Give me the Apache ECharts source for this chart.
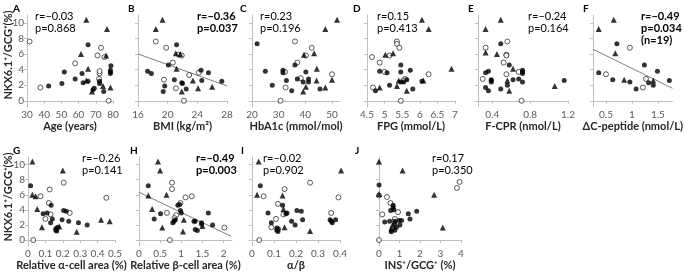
<!DOCTYPE html>
<html>
<head>
<meta charset="utf-8">
<script src="https://cdn.jsdelivr.net/npm/echarts@6/dist/echarts.min.js"></script>
<style>
  html, body { margin: 0; padding: 0; background: #fff; }
  #chart { width: 685px; height: 272px; }
</style>
</head>
<body>
<div id="chart"></div>
<script>
// y value in every panel: NKX6.1+/GCG+ (%)
// each panel: filled circles, open circles, triangles

// A - age
const ageFilled = [[42.6,1.9],[50.3,2.2],[51.7,3.7],[58,2.8],[62,3.5],[62.6,2.3],[65.5,7.2],[65.5,2.5],[68.4,1.4],[69.1,1.6],[72.2,2.5],[72.2,2.2],[74.6,1.2],[78.8,4.5],[78.5,3.9],[78.5,3.7],[78.5,3.5]];
const ageOpen = [[31.5,7.6],[37.8,1.7],[58,4.8],[71,5.8],[73,6.8],[75,5.6],[71.9,2.8],[72.2,3.5],[72.2,3.8],[77.5,0]];
const ageTri = [[64.5,10.4],[76.5,9.2],[61.4,6.0],[76,5.8],[65.5,4.1],[64.5,2.6],[67.8,1.2],[74.2,1.9],[78.5,1.7]];

// B - BMI
const bmiFilled = [[21.2,7.2],[20.1,4.6],[17.3,3.8],[17.8,3.5],[24.5,3.9],[25.5,3.6],[20.9,2.7],[24.6,2.6],[27.3,2.5],[21.9,2.3],[22.0,2.2],[19.6,1.9],[22.5,1.5],[19.4,1.2]];
const bmiOpen = [[18.4,7.6],[19.8,6.8],[21.5,5.9],[21.9,5.8],[20.7,4.9],[24.2,3.6],[22.9,3.3],[19.5,2.7],[21.1,1.6],[22.2,0]];
const bmiTri = [[19.3,10.4],[18.4,9.2],[21.1,6.1],[21.7,6.0],[21.2,4.1],[23.4,2.6],[24.1,1.6],[26,1.8],[21.9,1.2]];
const bmiFit = [[16,6.0],[28,1.9]];

// C - HbA1c
const hbFilled = [[21.9,7.3],[36.1,4.6],[25,3.8],[31.6,3.9],[31.6,3.6],[40.2,3.7],[37,2.8],[32.9,2.6],[39.2,2.4],[41.2,2.8],[41.2,2.4],[27.6,2.0],[34.9,1.3],[45.5,1.5]];
const hbOpen = [[36.1,7.6],[42.4,6.8],[40.2,5.8],[37,4.9],[32.4,3.7],[50,3.4],[38.3,2.9],[32.6,1.7],[30.7,0]];
const hbTri = [[51.9,10.4],[47.5,9.2],[39.5,5.9],[43.3,6.1],[44.3,4.1],[44.2,2.6],[50,2.7],[40.2,1.8],[47.5,1.7],[39.2,1.2]];

// D - FPG
const fpgFilled = [[5.46,4.6],[4.86,3.8],[5.07,3.6],[5.46,3.7],[5.73,3.9],[5.63,2.7],[5.46,2.4],[5.54,2.4],[6.06,2.5],[5.14,2.0],[4.74,1.3],[5.8,1.5]];
const fpgOpen = [[5.35,7.6],[5.35,7.3],[5.42,6.8],[5.14,5.8],[4.64,5.6],[4.86,4.9],[5.0,3.7],[6.25,3.4],[5.58,2.8],[5.54,2.6],[4.67,1.7],[5.46,0]];
const fpgTri = [[6.06,10.4],[6.25,9.2],[5.02,5.9],[5.24,6.1],[6.9,4.1],[5.4,2.6],[6.1,2.6],[5.35,1.9],[4.86,1.7],[5.63,1.3]];

// E - F-CPR
const fcprFilled = [[0.49,7.3],[0.58,4.6],[0.72,3.9],[0.72,3.7],[0.72,3.5],[0.36,3.8],[0.33,3.6],[0.39,2.7],[0.39,2.6],[0.39,2.4],[0.62,2.7],[0.68,2.8],[0.56,2.0],[0.72,2.4],[0.33,1.7],[0.36,1.3],[0.49,1.5],[1.16,2.6]];
const fcprOpen = [[0.56,7.6],[0.33,6.8],[0.55,5.9],[0.55,5.8],[0.52,4.9],[0.68,3.7],[0.55,3.4],[0.30,2.8],[0.71,0]];
const fcprTri = [[0.49,10.4],[0.33,9.2],[0.45,6.0],[0.33,6.2],[0.62,4.1],[0.56,2.6],[0.58,1.3],[1.06,1.9]];

// F - delta C-peptide
const dcpFilled = [[0.71,7.3],[1.24,4.6],[1.49,3.8],[0.36,3.6],[0.63,2.7],[0.96,2.4],[1.32,2.3],[1.41,2.0],[1.72,2.6],[1.08,1.5]];
const dcpOpen = [[0.96,6.8],[0.50,3.4],[1.27,2.8],[1.21,1.7]];
const dcpTri = [[0.65,10.4],[0.36,9.2],[0.68,6.1],[0.85,2.7],[1.41,2.6]];
const dcpFit = [[0.25,6.6],[1.78,1.6]];

// G - relative alpha-cell area
const alphaFilled = [[0.015,7.2],[0.133,4.6],[0.205,3.9],[0.22,3.8],[0.087,3.5],[0.11,3.6],[0.14,2.8],[0.13,2.3],[0.196,2.7],[0.234,2.5],[0.29,2.3],[0.34,2.0],[0.16,1.5],[0.16,1.3],[0.165,1.2],[0.17,1.7]];
const alphaOpen = [[0.205,7.6],[0.125,6.7],[0.072,5.8],[0.12,4.9],[0.45,5.6],[0.24,3.6],[0.13,3.4],[0.1,2.8],[0.03,0]];
const alphaTri = [[0.025,10.4],[0.2,9.2],[0.025,6.0],[0.044,5.8],[0.053,4.1],[0.08,1.7],[0.18,1.8],[0.28,1.1],[0.42,2.7],[0.47,2.5]];

// H - relative beta-cell area
const betaFilled = [[0.22,7.2],[0.92,4.6],[0.96,4.7],[0.51,3.5],[0.98,3.9],[1.0,3.6],[1.64,3.6],[0.86,2.7],[0.83,2.5],[0.36,2.8],[0.8,2.3],[1.3,2.5],[1.33,2.5],[1.48,2.3],[1.48,2.1],[1.74,2.0],[1.33,1.4],[1.38,1.25]];
const betaOpen = [[0.78,7.6],[0.78,6.75],[1.1,5.65],[1.25,5.8],[0.98,4.9],[0.66,3.6],[0.88,3.3],[0.84,2.9],[2.02,1.65],[0.73,0]];
const betaTri = [[0.45,10.4],[0.5,9.2],[0.22,5.9],[0.65,6.0],[0.31,4.1],[1.06,2.7],[1.5,1.85],[0.55,1.65],[1.04,1.15]];
const betaFit = [[0,6.33],[2.18,0.5]];

// I - alpha/beta
const ratioFilled = [[0.038,7.2],[0.139,4.6],[0.154,3.5],[0.159,3.6],[0.204,3.9],[0.224,3.8],[0.073,3.6],[0.088,2.3],[0.113,1.6],[0.113,1.3],[0.118,1.15],[0.12,1.45],[0.18,2.5],[0.196,2.0],[0.23,2.7],[0.355,2.7],[0.36,2.5],[0.365,2.3],[0.38,2.7]];
const ratioOpen = [[0.264,7.6],[0.148,6.75],[0.053,5.8],[0.393,5.65],[0.118,4.8],[0.143,3.4],[0.109,2.8],[0.36,3.6],[0.088,1.7],[0.033,0]];
const ratioTri = [[0.03,10.4],[0.405,9.2],[0.023,6.0],[0.139,5.9],[0.143,4.1],[0.148,1.7],[0.264,1.2]];

// J - INS+/GCG+
const insFilled = [[0,7.3],[0.69,4.6],[0.69,4.3],[0.72,4.0],[0.57,3.9],[1.43,3.5],[1.84,3.8],[1.51,2.8],[0.28,2.4],[0.52,2.5],[0.77,2.5],[0.98,2.6],[1.1,2.6],[0.77,2.2],[1.02,2.0],[0.6,1.3],[0.77,1.3],[0.6,1.1],[0.85,1.7]];
const insOpen = [[3.93,7.7],[3.8,6.9],[0,5.9],[0.39,5.7],[0.56,4.9],[0.93,3.7],[0.16,3.4],[0.77,2.8],[0.69,1.6],[0,0]];
const insTri = [[0,10.4],[1.15,9.2],[0,6.1],[2.69,6.0],[0.66,2.0],[3.11,1.65]];

// tick labels
const yTicks = [0, 2, 4, 6, 8, 10];
const ageTicks = [30, 40, 50, 60, 70, 80];
const bmiTicks = [16, 20, 24, 28];
const hbTicks = [20, 30, 40, 50];
const fpgTicks = [4.5, 5, 5.5, 6, 6.5, 7];
const fcprTicks = [0.4, 0.8, 1.2];
const dcpTicks = [0.5, 1, 1.5];
const alphaTicks = [0, 0.1, 0.2, 0.3, 0.4, 0.5];
const betaTicks = [0, 0.5, 1, 1.5, 2];
const ratioTicks = [0, 0.1, 0.2, 0.3, 0.4];
const insTicks = [0, 1, 2, 3, 4];

const letters = ['A', 'B', 'C', 'D', 'E', 'F', 'G', 'H', 'I', 'J'];
const xTitles = ['Age (years)', 'BMI (kg/m²)', 'HbA1c (mmol/mol)', 'FPG (mmol/L)', 'F-CPR (nmol/L)',
  'ΔC-peptide (nmol/L)', 'Relative α-cell area (%)', 'Relative β-cell area (%)', 'α/β', 'INS⁺/GCG⁺ (%)'];
const statR = ['r=−0.03', 'r=−0.36', 'r=0.23', 'r=0.15', 'r=−0.24', 'r=−0.49', 'r=−0.26', 'r=−0.49', 'r=−0.02', 'r=0.17'];
const statP = ['p=0.868', 'p=0.037', 'p=0.196', 'p=0.413', 'p=0.164', 'p=0.034', 'p=0.141', 'p=0.003', 'p=0.902', 'p=0.350'];
const yTitle = 'NKX6.1⁺/GCG⁺(%)';

const panelData = [
  [ageFilled, ageOpen, ageTri, null, ageTicks],
  [bmiFilled, bmiOpen, bmiTri, bmiFit, bmiTicks],
  [hbFilled, hbOpen, hbTri, null, hbTicks],
  [fpgFilled, fpgOpen, fpgTri, null, fpgTicks],
  [fcprFilled, fcprOpen, fcprTri, null, fcprTicks],
  [dcpFilled, dcpOpen, dcpTri, dcpFit, dcpTicks],
  [alphaFilled, alphaOpen, alphaTri, null, alphaTicks],
  [betaFilled, betaOpen, betaTri, betaFit, betaTicks],
  [ratioFilled, ratioOpen, ratioTri, null, ratioTicks],
  [insFilled, insOpen, insTri, null, insTicks]
];

// layout (pixels) and axis ranges
const layout = [
  { left: 27,  width: 86, top: 15,  min: 30,   max: 80,   letterX: 13,  statX: 35,  bold: false },
  { left: 138, width: 89, top: 15,  min: 16,   max: 28,   letterX: 128, statX: 197, bold: true },
  { left: 252, width: 88, top: 15,  min: 20,   max: 53,   letterX: 240, statX: 260, bold: false },
  { left: 367, width: 88, top: 15,  min: 4.5,  max: 7,    letterX: 353, statX: 377, bold: false },
  { left: 478, width: 90, top: 15,  min: 0.25, max: 1.2,  letterX: 468, statX: 528, bold: false },
  { left: 593, width: 90, top: 15,  min: 0.25, max: 1.78, letterX: 583, statX: 641, bold: true },
  { left: 28,  width: 87, top: 157, min: 0,    max: 0.5,  letterX: 13,  statX: 82,  bold: false },
  { left: 139, width: 93, top: 157, min: 0,    max: 2.2,  letterX: 130, statX: 196, bold: true },
  { left: 252, width: 88, top: 157, min: 0,    max: 0.4,  letterX: 241, statX: 263, bold: false },
  { left: 379, width: 82, top: 157, min: 0,    max: 4,    letterX: 355, statX: 432, bold: false }
];
const plotH = 92;

const FONT = 'Lato, "Open Sans", "DejaVu Sans", sans-serif';
const axisGray = '#bfbfbf';
const labelGray = '#595959';

const grids = [], xAxes = [], yAxes = [], series = [], graphics = [];

layout.forEach((p, i) => {
  const [filled, open, tri, fit, ticks] = panelData[i];
  const bottomRow = i >= 6;
  grids.push({ left: p.left, top: p.top, width: p.width, height: plotH });

  xAxes.push({
    gridIndex: i, type: 'value', min: p.min, max: p.max,
    name: xTitles[i], nameLocation: 'middle', nameGap: bottomRow ? 12 : 14,
    nameTextStyle: { fontFamily: FONT, fontSize: 11, fontWeight: 'bold', color: '#262626' },
    axisLine: { show: true, lineStyle: { color: axisGray, width: 1 } },
    axisTick: { show: true, length: 3, lineStyle: { color: axisGray }, customValues: ticks },
    axisLabel: { fontFamily: FONT, fontSize: 10, color: labelGray, margin: 3, customValues: ticks },
    splitLine: { show: false }
  });

  const showY = i === 0 || i === 6;
  yAxes.push({
    gridIndex: i, type: 'value', min: -0.8, max: 11,
    axisLine: { show: true, lineStyle: { color: axisGray, width: 1 } },
    axisTick: { show: true, length: 3, lineStyle: { color: axisGray }, customValues: yTicks },
    axisLabel: { show: showY, fontFamily: FONT, fontSize: 10, color: labelGray, margin: 3, customValues: yTicks },
    splitLine: { show: false }
  });

  if (fit) {
    series.push({
      type: 'line', xAxisIndex: i, yAxisIndex: i, data: fit, symbol: 'none',
      lineStyle: { color: '#808080', width: 1 }, silent: true, z: 1
    });
  }
  series.push({
    type: 'scatter', xAxisIndex: i, yAxisIndex: i, data: open, clip: false,
    symbol: 'circle', symbolSize: 5,
    itemStyle: { color: '#fff', borderColor: '#000', borderWidth: 0.8 }, z: 2
  });
  series.push({
    type: 'scatter', xAxisIndex: i, yAxisIndex: i, data: filled, clip: false,
    symbol: 'circle', symbolSize: 5, itemStyle: { color: '#000' }, z: 3
  });
  series.push({
    type: 'scatter', xAxisIndex: i, yAxisIndex: i, data: tri, clip: false,
    symbol: 'triangle', symbolSize: 6, itemStyle: { color: '#000' }, z: 3
  });

  // panel letter
  graphics.push({
    type: 'text', x: p.letterX, y: p.top - 6,
    style: { text: letters[i], font: 'bold 10px ' + FONT, fill: '#000',
      align: 'left', textAlign: 'left', verticalAlign: 'middle', textVerticalAlign: 'middle' }
  });
  // correlation text
  const statFont = (p.bold ? 'bold ' : '') + '11px ' + FONT;
  const lines = [statR[i], statP[i]];
  if (i === 5) lines.push('(n=19)');
  lines.forEach((t, k) => {
    graphics.push({
      type: 'text', x: p.statX, y: p.top + 1 + k * 12,
      style: { text: t, font: statFont, fill: '#000',
        align: 'left', textAlign: 'left', verticalAlign: 'middle', textVerticalAlign: 'middle' }
    });
  });
  // y axis title
  if (showY) {
    graphics.push({
      type: 'text', x: 8, y: p.top + 40, rotation: Math.PI / 2,
      style: { text: yTitle, font: 'bold 11px ' + FONT, fill: '#262626',
        align: 'center', textAlign: 'center', verticalAlign: 'middle', textVerticalAlign: 'middle' }
    });
  }
});

const chart = echarts.init(document.getElementById('chart'), null, { renderer: 'canvas' });
chart.setOption({
  animation: false,
  backgroundColor: '#fff',
  grid: grids,
  xAxis: xAxes,
  yAxis: yAxes,
  series: series,
  graphic: { elements: graphics }
});
</script>
</body>
</html>
